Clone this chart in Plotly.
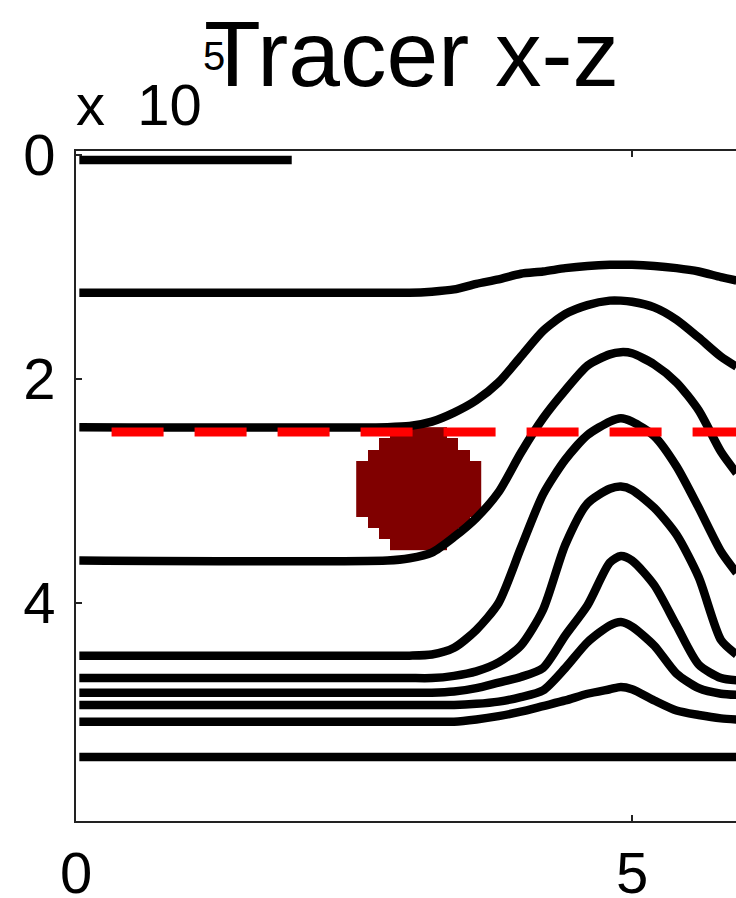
import plotly.graph_objects as go

# ---------------- data (axis units, depth x 10^5) ----------------
x_grid = [0.03, 2.8, 3.0, 3.2, 3.4, 3.6, 3.8, 4.0, 4.2, 4.4, 4.6, 4.8, 4.9, 5.0, 5.2, 5.4, 5.6, 5.8, 5.94]

line2 = [1.23, 1.23, 1.23, 1.22, 1.20, 1.15, 1.11, 1.06, 1.04, 1.01, 0.99, 0.98, 0.98, 0.98, 0.99, 1.01, 1.04, 1.09, 1.12]
line3 = [2.43, 2.43, 2.42, 2.38, 2.30, 2.19, 2.03, 1.80, 1.57, 1.42, 1.34, 1.30, 1.30, 1.31, 1.36, 1.47, 1.63, 1.80, 1.89]
line4 = [3.62, 3.62, 3.60, 3.55, 3.41, 3.24, 3.01, 2.66, 2.35, 2.10, 1.88, 1.78, 1.76, 1.77, 1.87, 2.03, 2.28, 2.65, 2.84]
line5 = [4.47, 4.47, 4.47, 4.46, 4.40, 4.24, 4.00, 3.51, 3.03, 2.72, 2.50, 2.38, 2.35, 2.38, 2.51, 2.78, 3.15, 3.54, 3.73]
line6 = [4.67, 4.67, 4.67, 4.67, 4.65, 4.61, 4.53, 4.38, 4.06, 3.48, 3.11, 2.98, 2.96, 2.99, 3.15, 3.39, 3.77, 4.33, 4.46]
line7 = [4.80, 4.80, 4.80, 4.80, 4.79, 4.76, 4.71, 4.66, 4.58, 4.29, 4.02, 3.64, 3.58, 3.62, 3.84, 4.20, 4.55, 4.67, 4.69]
line8 = [4.91, 4.91, 4.91, 4.91, 4.91, 4.90, 4.88, 4.84, 4.78, 4.58, 4.35, 4.20, 4.17, 4.21, 4.38, 4.63, 4.76, 4.81, 4.82]
line9 = [5.06, 5.06, 5.06, 5.06, 5.06, 5.04, 5.01, 4.97, 4.92, 4.87, 4.81, 4.77, 4.75, 4.77, 4.87, 4.96, 5.00, 5.03, 5.04]
bumped_lines = [line2, line3, line4, line5, line6, line7, line8, line9]

line1_x = [0.03, 1.94]
line1_y = [0.045, 0.045]
line10_x = [0.03, 5.94]
line10_y = [5.375, 5.375]

# red dashed reference depth
ref_x = [0.32, 5.94]
ref_y = [2.473, 2.473]

# tracer patch (pixelated disc): cell grid and filled column spans per row
blob_x0 = 2.52
blob_dx = 0.102
blob_y0 = 2.43
blob_dy = 0.10
blob_col_start = [3, 2, 1, 0, 0, 0, 0, 0, 1, 2, 3]
blob_col_end = [8, 9, 10, 11, 11, 11, 11, 11, 10, 9, 8]

x_ticks = [0, 5]
y_ticks = [0, 2, 4]

# ---------------- figure ----------------
W, H = 736, 898
L, T, B = 76, 151, 77
plot_w = W - L
plot_h = H - T - B

fig = go.Figure()

ncol = max(blob_col_end)
z = []
for s, e in zip(blob_col_start, blob_col_end):
    z.append([1 if s <= j < e else None for j in range(ncol)])
fig.add_trace(go.Heatmap(
    z=z,
    x=[blob_x0 + blob_dx * (j + 0.5) for j in range(ncol)],
    y=[blob_y0 + blob_dy * (i + 0.5) for i in range(len(z))],
    colorscale=[[0, "#800000"], [1, "#800000"]],
    showscale=False, hoverinfo="skip", zsmooth=False,
))

LW = 8.5
fig.add_trace(go.Scatter(x=line1_x, y=line1_y, mode="lines",
                         line=dict(color="black", width=LW), showlegend=False))
for ys in bumped_lines:
    fig.add_trace(go.Scatter(x=x_grid, y=ys, mode="lines",
                             line=dict(color="black", width=LW, shape="spline", smoothing=0.7),
                             showlegend=False))
fig.add_trace(go.Scatter(x=line10_x, y=line10_y, mode="lines",
                         line=dict(color="black", width=LW), showlegend=False))

fig.add_trace(go.Scatter(x=ref_x, y=ref_y, mode="lines",
                         line=dict(color="#ff0000", width=9, dash="52px,31px"),
                         showlegend=False))

axis_font = dict(family="Liberation Sans, Arial, sans-serif", size=58, color="black")

fig.update_layout(
    width=W, height=H,
    margin=dict(l=L, r=0, t=T, b=B, pad=0),
    paper_bgcolor="white", plot_bgcolor="white",
    showlegend=False,
    xaxis=dict(range=[0, plot_w / 111.2], tickvals=x_ticks, ticktext=[str(v) for v in x_ticks],
               showgrid=False, zeroline=False, showline=True, linecolor="#222", linewidth=2,
               mirror="ticks", ticks="inside", ticklen=6, tickwidth=2, tickcolor="#222",
               tickfont=axis_font, ticklabelstandoff=0, automargin=False),
    yaxis=dict(range=[-0.036 + plot_h / 112.0, -0.036], tickvals=y_ticks,
               ticktext=[str(v) for v in y_ticks],
               showgrid=False, zeroline=False, showline=True, linecolor="#222", linewidth=2,
               mirror=False, ticks="inside", ticklen=6, tickwidth=2, tickcolor="#222",
               tickfont=axis_font, ticklabelstandoff=7, automargin=False),
)

def px_x(p):
    return (p - L) / plot_w

def px_y(p):
    return (H - B - p) / plot_h

fig.add_annotation(text="x&nbsp;&nbsp;10", xref="paper", yref="paper", x=px_x(74), y=px_y(104),
                   xanchor="left", yanchor="middle", showarrow=False,
                   font=dict(family="Liberation Sans, Arial, sans-serif", size=58, color="black"))
fig.add_annotation(text="5", xref="paper", yref="paper", x=px_x(214), y=px_y(56),
                   xanchor="center", yanchor="middle", showarrow=False,
                   font=dict(family="Liberation Sans, Arial, sans-serif", size=40, color="black"))
fig.add_annotation(text="Tracer x-z", xref="paper", yref="paper", x=px_x(411), y=px_y(54),
                   xanchor="center", yanchor="middle", showarrow=False,
                   font=dict(family="Liberation Sans, Arial, sans-serif", size=93, color="black"))

fig.write_html("out.html", config={"displayModeBar": False},
               post_script="document.body.style.margin='0px';document.body.style.overflow='hidden';")
